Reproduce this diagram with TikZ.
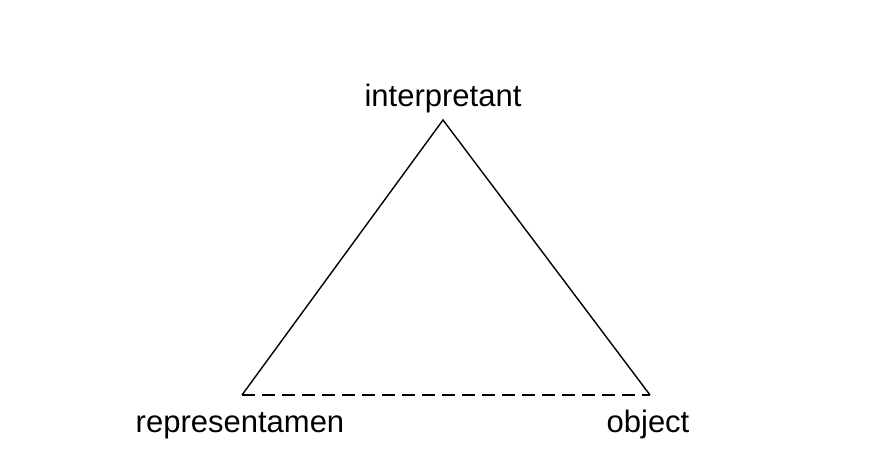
\documentclass[tikz,border=0pt]{standalone}
\usepackage{fontspec}
\setmainfont{Liberation Sans}
\usetikzlibrary{positioning}

\tikzset{
  side/.style={line width=1.4pt, black},
  dashedside/.style={side, dash pattern=on 13pt off 7pt},
  vertexlabel/.style={font=\fontsize{31}{36}\selectfont, anchor=base, inner sep=0pt}
}

\begin{document}
\begin{tikzpicture}[x=1pt,y=1pt]
  % Canvas
  \useasboundingbox (0,0) rectangle (875,457);

  % Corners of the triangle
  \coordinate (interp) at (443,337);
  \coordinate (repr) at (242,62);
  \coordinate (obj) at (650,62);

  % Labels
  \node[vertexlabel] (interplabel) at (443,350) {interpretant};
  \node[vertexlabel] (reprlabel) at (240,24) {representamen};
  \node[vertexlabel] (objlabel) at (648,24) {object};

  % Draw sides
  \draw[side] (repr) -- (interp) -- (obj);
  \draw[dashedside] (repr) -- (obj);
\end{tikzpicture}
\end{document}
